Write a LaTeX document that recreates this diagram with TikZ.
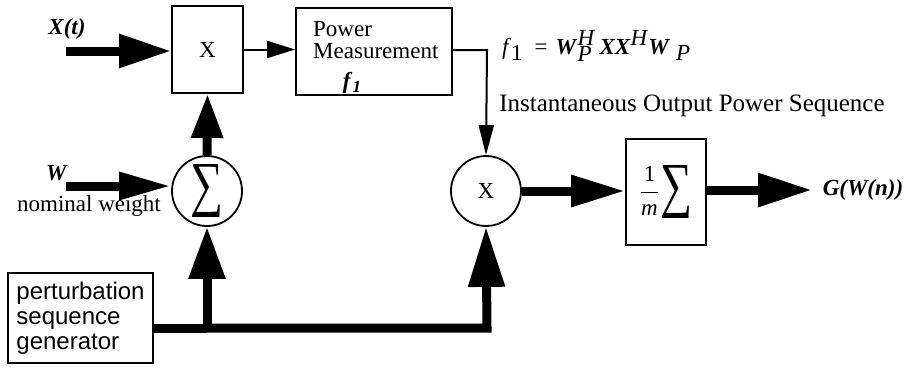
\documentclass[tikz,border=0pt]{standalone}
\usepackage{fontspec}
\setmainfont{Liberation Serif}
\setsansfont{Liberation Sans}
\usetikzlibrary{arrows.meta}
\newcommand\bfit[1]{\textbf{\textit{#1}}}
\newcommand\lowr[1]{\raisebox{-7pt}{#1}}
\newcommand\highr[1]{\raisebox{9pt}{#1}}
\newcommand\bigsum[2]{\resizebox{#1}{#2}{∑}}
\begin{document}
\begin{tikzpicture}[x=1pt,y=-1pt,
  every node/.style={font=\fontsize{23}{26}\selectfont, inner sep=0pt},
  blk/.style={draw, line width=1.8pt, minimum width=#1},
  circ/.style={draw, circle, line width=1.8pt, minimum size=70pt},
  thick arrow/.style={line width=9pt, line join=miter, -{Triangle[length=#1]}},
  thin arrow/.style={line width=2pt, -{Triangle[length=28pt,width=17pt]}}
]
\useasboundingbox (0,0) rectangle (917,367);

% blocks
\node[blk=71pt, minimum height=87pt] (xbox) at (207.5,49.5) {X};
\node[blk=156pt, minimum height=87pt] (pm) at (374,51.5) {};
\node[anchor=west] (pw) at (313,29) {Power};
\node[anchor=west] (ms) at (313,51) {Measurement};
\node (pf) at (352,83) {\bfit{f}\raisebox{-4pt}{\fontsize{17}{17}\selectfont\bfit{1}}};
\node[circ] (sum) at (207,191) {\bigsum{33pt}{40pt}};
\node[circ] (mul) at (486,191) {X};
\node[blk=80pt, minimum height=106pt] (avg) at (666,192)
  {$\displaystyle\frac{\mbox{1}}{\mbox{\itshape m}}\hspace{1pt}\vcenter{\hbox{\bigsum{32pt}{40pt}}}$};
\node[blk=145pt, minimum height=90pt, align=left, font=\sffamily\fontsize{24}{25}\selectfont, inner sep=8pt] (pert) at (80.5,318)
  {perturbation\\sequence\\generator};

% labels
\node (xt) at (67,29) {\bfit{X(t)}};
\node (w) at (57,173) {\bfit{W}};
\node (nw) at (89,206) {nominal weight};
\node[anchor=west] (eq) at (502,46) {\textit{f}\raisebox{-6pt}{1}\hspace{12pt}=\hspace{8pt}\bfit{W}\rlap{\highr{\textit{H}}}\lowr{\textit{P}}\hspace{8pt}\bfit{XX}\highr{\textit{H}}\bfit{W}\hspace{6pt}\raisebox{-6pt}{\textit{P}}};
\node (inst) at (692,106) {\fontsize{25}{28}\selectfont Instantaneous Output Power Sequence};
\node (gw) at (863,190) {\bfit{G(W(n))}};

% coordinates
\coordinate (in1) at (66,51);
\coordinate (in2) at (66,186);
\coordinate (out) at (812,190);
\coordinate (j1) at (207,328);
\coordinate (j2) at (487,328);
\coordinate (pc) at (487,50);

% connectors
\draw[thick arrow={52pt 0 0,width=32pt}] (in1) -- (xbox.west |- in1);
\draw[thick arrow={52pt 0 0,width=26pt}] (in2) -- (sum.west |- in2);
\draw[thick arrow={44pt 0 0,width=30pt}] (sum.north) -- (xbox.south);
\draw[thin arrow] (xbox.east) -- (pm.west |- xbox.east);
\draw[thin arrow, -{Triangle[length=30pt,width=15pt]}] (pm.east |- pc) -- (pc) -- (mul.north);
\draw[line width=9pt] (pert.east |- j1) -- (j1);
\draw[thick arrow={52pt 0 0,width=35pt}] (j1) -- (sum.south);
\draw[thick arrow={60pt 0 0,width=35pt}] (j1) -- (j2) -- (mul.south);
\draw[thick arrow={54pt 0 0,width=30pt}] (mul.east) -- (avg.west |- mul.east);
\draw[thick arrow={54pt 0 0,width=32pt}] (avg.east |- out) -- (out);
\end{tikzpicture}
\end{document}
